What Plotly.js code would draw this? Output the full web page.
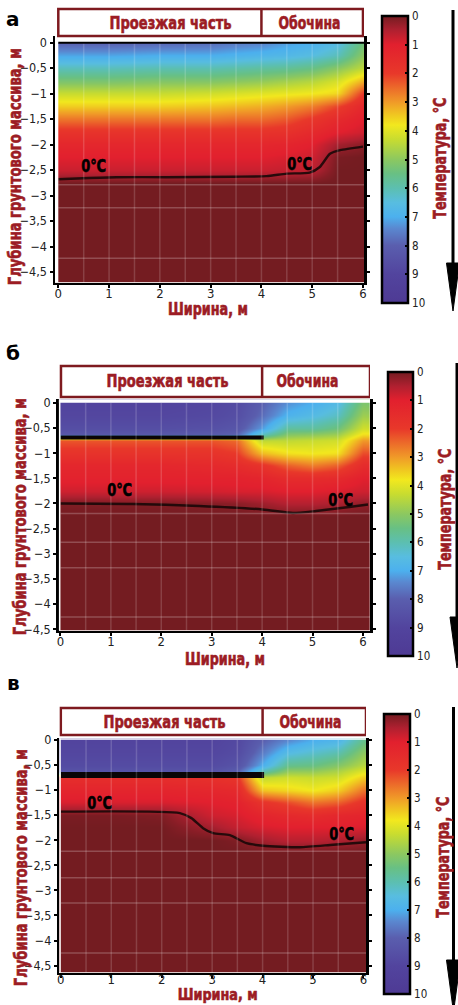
<!DOCTYPE html>
<html><head><meta charset="utf-8">
<script src="https://cdn.plot.ly/plotly-3.0.1.min.js"></script>
<style>html,body{margin:0;padding:0;background:#fff}#chart{width:458px;height:1005px}</style>
</head><body><div id="chart"></div>
<script>
// ---------- DATA ----------
const xGrid = [0, 1, 2, 3, 3.5, 4, 4.5, 5, 5.5, 6];

const yGridA = [0, -0.25, -0.5, -0.75, -1, -1.25, -1.5, -1.75, -2, -2.25, -2.5, -2.75, -3, -4.7];
const tempA = [
  [-8.0,-8.0,-7.9,-7.8,-7.6,-7.5,-7.2,-7.0,-6.6,-5.4],
  [-7.1,-7.1,-7.0,-7.0,-6.9,-6.8,-6.7,-6.5,-6.1,-5.0],
  [-6.1,-6.1,-6.0,-6.0,-5.9,-5.8,-5.7,-5.5,-5.0,-4.4],
  [-5.2,-5.2,-5.1,-5.1,-5.0,-4.9,-4.7,-4.5,-4.1,-3.2],
  [-4.3,-4.3,-4.3,-4.2,-4.1,-4.0,-3.9,-3.8,-3.6,-2.0],
  [-3.5,-3.5,-3.5,-3.4,-3.3,-3.2,-3.0,-2.7,-2.1,-1.3],
  [-2.6,-2.6,-2.6,-2.6,-2.5,-2.5,-2.3,-1.9,-1.4,-1.0],
  [-1.8,-1.8,-1.8,-1.8,-1.8,-1.8,-1.7,-1.4,-1.0,-0.8],
  [-1.3,-1.3,-1.3,-1.3,-1.3,-1.3,-1.2,-1.0,-0.4,-0.2],
  [-1.0,-1.0,-1.0,-1.0,-1.0,-1.0,-0.9,-0.8,-0.05,0],
  [-0.75,-0.75,-0.75,-0.75,-0.75,-0.75,-0.7,-0.6,0,0],
  [0,0,0,0,0,0,0,0,0,0],
  [0,0,0,0,0,0,0,0,0,0],
  [0,0,0,0,0,0,0,0,0,0]
];

const yGridB = [0, -0.25, -0.5, -0.62, -0.74, -1, -1.25, -1.5, -1.75, -2, -2.25, -2.5, -3, -4.6];
const tempB = [
  [-9.0,-9.0,-9.0,-8.9,-8.7,-8.0,-7.3,-7.0,-6.6,-5.2],
  [-8.9,-8.9,-8.9,-8.8,-8.6,-7.8,-6.9,-6.6,-6.2,-4.8],
  [-8.6,-8.6,-8.6,-8.5,-8.3,-7.2,-5.8,-5.8,-5.4,-4.2],
  [-8.2,-8.2,-8.2,-8.1,-7.9,-6.2,-5.1,-5.0,-4.8,-3.7],
  [-2.3,-2.3,-2.3,-2.3,-2.5,-4.4,-4.4,-4.3,-4.2,-3.0],
  [-1.8,-1.8,-1.8,-1.8,-2.0,-3.3,-3.7,-3.8,-3.7,-2.2],
  [-1.3,-1.3,-1.3,-1.4,-1.5,-1.8,-2.4,-2.7,-2.4,-1.5],
  [-1.1,-1.1,-1.1,-1.1,-1.1,-1.2,-1.5,-1.5,-1.4,-1.0],
  [-0.8,-0.8,-0.8,-0.85,-0.9,-0.9,-1.0,-1.0,-0.9,-0.8],
  [-0.1,-0.1,-0.1,-0.15,-0.2,-0.35,-0.55,-0.55,-0.45,-0.25],
  [0,0,0,0,0,0,0,0,0,0],
  [0,0,0,0,0,0,0,0,0,0],
  [0,0,0,0,0,0,0,0,0,0],
  [0,0,0,0,0,0,0,0,0,0]
];

const yGridV = [0, -0.25, -0.5, -0.62, -0.74, -1, -1.25, -1.5, -1.75, -2, -2.25, -2.5, -3, -4.65];
const tempV = [
  [-9.0,-9.0,-9.0,-9.0,-8.8,-8.0,-7.4,-7.0,-6.8,-5.6],
  [-8.9,-8.9,-8.9,-8.9,-8.7,-7.6,-6.6,-6.3,-6.0,-5.0],
  [-8.7,-8.7,-8.7,-8.7,-8.4,-7.0,-5.6,-5.5,-5.1,-4.5],
  [-8.4,-8.4,-8.4,-8.4,-8.0,-6.0,-4.9,-4.9,-4.6,-4.0],
  [-1.6,-1.6,-1.6,-1.7,-1.9,-4.4,-4.2,-4.3,-4.2,-3.5],
  [-1.2,-1.2,-1.2,-1.3,-1.4,-3.4,-3.6,-3.8,-3.5,-2.6],
  [-0.9,-0.9,-0.9,-1.0,-1.1,-1.8,-2.2,-2.6,-2.4,-1.8],
  [-0.05,-0.05,-0.1,-0.8,-0.9,-1.2,-1.4,-1.5,-1.3,-1.2],
  [0,0,0,-0.4,-0.7,-0.9,-1.0,-1.0,-1.0,-0.9],
  [0,0,0,0,-0.1,-0.4,-0.6,-0.6,-0.5,-0.3],
  [0,0,0,0,0,0,0,0,0,0],
  [0,0,0,0,0,0,0,0,0,0],
  [0,0,0,0,0,0,0,0,0,0],
  [0,0,0,0,0,0,0,0,0,0]
];

// 0 °C isotherms
const zeroLineA_x = [0, 0.49, 1.15, 2.13, 3.45, 4.1, 4.5, 4.95, 5.15, 5.35, 5.55, 6.0];
const zeroLineA_y = [-2.68, -2.66, -2.64, -2.64, -2.63, -2.62, -2.57, -2.55, -2.44, -2.18, -2.11, -2.04];
const zeroLineB_x = [0, 1.43, 2.75, 4.01, 4.61, 5.07, 5.73, 6.1];
const zeroLineB_y = [-2.0, -2.01, -2.05, -2.12, -2.19, -2.15, -2.07, -2.02];
const zeroLineV_x = [0, 2.36, 2.59, 2.82, 3.02, 3.35, 3.68, 4.01, 4.74, 5.4, 6.05];
const zeroLineV_y = [-1.43, -1.46, -1.56, -1.76, -1.86, -1.90, -2.06, -2.11, -2.14, -2.09, -2.04];

// insulation layer under the carriageway
const barB_x = [0, 4.03];
const barB_y = [-0.69, -0.69];
const barV_x = [0, 4.03];
const barV_y = [-0.70, -0.70];

// labels / ticks
const xTickVals = [0, 1, 2, 3, 4, 5, 6];
const xTickText = ['0', '1', '2', '3', '4', '5', '6'];
const yTickVals = [0, -0.5, -1, -1.5, -2, -2.5, -3, -3.5, -4, -4.5];
const yTickText = ['0', '\u22120,5', '\u22121', '\u22121,5', '\u22122', '\u22122,5', '\u22123', '\u22123,5', '\u22124', '\u22124,5'];
const cbTickVals = [0, -1, -2, -3, -4, -5, -6, -7, -8, -9, -10];
const cbTickText = ['0', '1', '2', '3', '4', '5', '6', '7', '8', '9', '10'];
const panelLetters = ['а', 'б', 'в'];
const headerLabels = ['Проезжая часть', 'Обочина'];
const zeroLabel = '0°C';
const xTitle = 'Ширина, м';
const yTitle = 'Глубина грунтового массива, м';
const cbTitle = 'Температура, °C';
const faintX = [0.5, 1, 1.5, 2, 2.5, 3, 3.5, 4, 4.5, 5, 5.5];

// ---------- STYLE / LAYOUT ----------
const W = 458, H = 1005;
const px = v => v / W;
const py = v => 1 - v / H;
const RED = '#9c1c24';
const BOLD = '"DejaVu Sans Condensed","Liberation Sans Narrow","DejaVu Sans",sans-serif';
const THIN = '"Liberation Sans Narrow","DejaVu Sans Condensed","Arial Narrow",sans-serif';

// target printed lengths (px) of the condensed bold labels, as measured on the reference
const textWidths = {};
textWidths[headerLabels[0]] = 122;
textWidths[headerLabels[1]] = 62;
textWidths[zeroLabel] = 25;
textWidths[xTitle] = 80;
textWidths[yTitle] = 237;
textWidths[cbTitle] = 121;

const colorscale = [
  [0.00, '#4e3a94'], [0.10, '#52449e'], [0.20, '#5a5eae'], [0.26, '#5a88d0'],
  [0.30, '#4cb0ee'], [0.35, '#58bde0'], [0.40, '#5cbfb0'], [0.45, '#68c084'],
  [0.50, '#8cc860'], [0.57, '#c8dc30'], [0.62, '#f2e81e'], [0.65, '#f0cc20'],
  [0.70, '#f09a28'], [0.75, '#ec6a2a'], [0.80, '#e8382a'], [0.90, '#e2202e'],
  [0.95, '#b02030'], [1.00, '#741c21']
];

const panels = [
  { y: yGridA, z: tempA, zx: zeroLineA_x, zy: zeroLineA_y, bx: null, by: null, barW: 0,
    xd: [55, 364], xr: [-0.065, 6.02], yd: [36, 282.7], yr: [-4.71, 0.13],
    head: [9, 36], headX: [0, 6], headTextY: 22.7, headTextX: [2.2, 4.95],
    cb: { l: 382, w: 26, t: 16, b: 303 }, cbt: { x: 440, y: 158 },
    arrow: { x: 453, t: 10, ht: 263, b: 311, hw: 6.5 }, letter: { x: 13, y: 19 },
    xt: { x: 208, y: 309, s: 17 }, xso: -6, yt: { x: 15, y: 167 },
    zl: [[0.7, -2.42], [4.74, -2.38]], faintY: [-2.79, -3.24, -4.23], topLine: true },
  { y: yGridB, z: tempB, zx: zeroLineB_x, zy: zeroLineB_y, bx: barB_x, by: barB_y, barW: 4,
    xd: [58.7, 370], xr: [-0.035, 6.14], yd: [399.3, 630.7], yr: [-4.53, 0.07],
    head: [366, 397], headX: [0.01, 6.14], headTextY: 380.7, headTextX: [2.13, 4.91],
    cb: { l: 388, w: 25, t: 372, b: 656 }, cbt: { x: 445, y: 509 },
    arrow: { x: 457, t: 363, ht: 617, b: 668, hw: 7 }, letter: { x: 13, y: 353 },
    xt: { x: 225, y: 659, s: 17 }, xso: -6, yt: { x: 20, y: 517 },
    zl: [[1.17, -1.73], [5.56, -1.92]], faintY: [-2.2, -2.77, -3.28, -4.26], topLine: false },
  { y: yGridV, z: tempV, zx: zeroLineV_x, zy: zeroLineV_y, bx: barV_x, by: barV_y, barW: 6,
    xd: [59.3, 366], xr: [-0.03, 6.05], yd: [738.3, 972.7], yr: [-4.64, 0.03],
    head: [708, 735], headX: [0, 6.05], headTextY: 721.7, headTextX: [2.06, 4.94],
    cb: { l: 384, w: 26, t: 714, b: 994 }, cbt: { x: 443, y: 857 },
    arrow: { x: 453.5, t: 707, ht: 960, b: 1012, hw: 7 }, letter: { x: 13, y: 683 },
    xt: { x: 217, y: 994.5, s: 15.5 }, xso: -10, yt: { x: 21, y: 868 },
    zl: [[0.77, -1.24], [5.57, -1.86]], faintY: [-2.22, -2.75, -3.25, -4.25], topLine: false }
];

const data = [];
const shapes = [];
const annotations = [];
const layout = {
  width: W, height: H, margin: { l: 0, r: 0, t: 0, b: 0 },
  paper_bgcolor: '#fff', plot_bgcolor: '#fff', showlegend: false,
  shapes, annotations
};

panels.forEach((p, i) => {
  const n = i === 0 ? '' : String(i + 1);
  const xa = 'x' + n, ya = 'y' + n;
  data.push({
    type: 'heatmap', x: xGrid, y: p.y, z: p.z, xaxis: xa, yaxis: ya,
    zmin: -10, zmax: 0, zsmooth: 'best', colorscale, hoverinfo: 'skip',
    showscale: true,
    colorbar: {
      x: px(p.cb.l), xanchor: 'left', xpad: 0, ypad: 0, thickness: p.cb.w,
      lenmode: 'pixels', len: p.cb.b - p.cb.t, y: py((p.cb.t + p.cb.b) / 2), yanchor: 'middle',
      outlinewidth: 2.5, outlinecolor: '#000',
      tickmode: 'array', tickvals: cbTickVals, ticktext: cbTickText,
      ticks: 'inside', ticklen: 4, tickwidth: 2, tickcolor: '#000',
      tickfont: { family: THIN, size: 11.5, color: '#222' }
    }
  });
  if (p.bx) {
    data.push({ type: 'scatter', mode: 'lines', x: p.bx, y: p.by, xaxis: xa, yaxis: ya,
      line: { color: '#0a0506', width: p.barW }, hoverinfo: 'skip' });
  }
  data.push({ type: 'scatter', mode: 'lines', x: p.zx, y: p.zy, xaxis: xa, yaxis: ya,
    line: { color: '#1a0808', width: 2.4, shape: 'spline', smoothing: 0.6 }, opacity: 0.9, hoverinfo: 'skip' });

  const axBase = {
    showline: true, linewidth: 2.5, linecolor: '#000', showgrid: false, zeroline: false,
    ticks: 'outside', ticklen: 3, tickwidth: 2, tickcolor: '#000', fixedrange: true,
    tickfont: { family: THIN, size: 13, color: '#222' }
  };
  layout['xaxis' + n] = Object.assign({}, axBase, {
    domain: [px(p.xd[0]), px(p.xd[1])], range: p.xr, anchor: ya,
    tickmode: 'array', tickvals: xTickVals, ticktext: xTickText, ticklabelstandoff: p.xso
  });
  layout['yaxis' + n] = Object.assign({}, axBase, {
    domain: [py(p.yd[1]), py(p.yd[0])], range: p.yr, anchor: xa, mirror: 'allticks',
    tickmode: 'array', tickvals: yTickVals, ticktext: yTickText, ticklabelstandoff: 0,
    tickfont: { family: THIN, size: 12.5, color: '#222' }
  });

  // white margins outside the field and faint scan grid
  shapes.push({ type: 'rect', xref: xa, yref: ya, x0: p.xr[0], x1: 0, y0: p.yr[0], y1: p.yr[1],
    fillcolor: '#fff', line: { width: 0 }, layer: 'above' });
  shapes.push({ type: 'rect', xref: xa, yref: ya, x0: p.xr[0], x1: p.xr[1], y0: 0, y1: p.yr[1],
    fillcolor: '#fff', line: { width: 0 }, layer: 'above' });
  faintX.forEach(fx => shapes.push({ type: 'line', xref: xa, yref: ya, x0: fx, x1: fx, y0: p.yr[0], y1: 0,
    line: { color: 'rgba(255,255,255,0.16)', width: 1.5 }, layer: 'above' }));
  p.faintY.forEach(fy => shapes.push({ type: 'line', xref: xa, yref: ya, x0: 0, x1: p.xr[1], y0: fy, y1: fy,
    line: { color: 'rgba(255,255,255,0.22)', width: 1.5 }, layer: 'above' }));
  if (p.topLine) {
    shapes.push({ type: 'line', xref: xa, yref: ya, x0: 0, x1: p.xr[1], y0: 0, y1: 0,
      line: { color: '#000', width: 2 }, layer: 'above' });
  }

  // header boxes
  shapes.push({ type: 'rect', xref: xa, yref: 'paper', x0: p.headX[0], x1: p.headX[1],
    y0: py(p.head[1]), y1: py(p.head[0]), fillcolor: '#fff', line: { color: '#7e1a1f', width: 2.5 }, layer: 'above' });
  shapes.push({ type: 'line', xref: xa, yref: 'paper', x0: 4, x1: 4,
    y0: py(p.head[1]), y1: py(p.head[0]), line: { color: '#7e1a1f', width: 2.5 }, layer: 'above' });
  headerLabels.forEach((t, k) => annotations.push({
    text: t, xref: xa, yref: 'paper', x: p.headTextX[k], y: py(p.headTextY),
    xanchor: 'center', yanchor: 'middle', showarrow: false,
    font: { family: BOLD, size: 18, color: RED, weight: 'bold' }
  }));

  // 0 °C labels
  p.zl.forEach(c => annotations.push({
    text: zeroLabel, xref: xa, yref: ya, x: c[0], y: c[1], xanchor: 'center', yanchor: 'middle',
    showarrow: false, font: { family: BOLD, size: 18, color: '#000', weight: 'bold' }
  }));

  // axis titles
  annotations.push({ text: xTitle, xref: 'paper', yref: 'paper', x: px(p.xt.x), y: py(p.xt.y),
    xanchor: 'center', yanchor: 'middle', showarrow: false,
    font: { family: BOLD, size: p.xt.s, color: RED, weight: 'bold' } });
  annotations.push({ text: yTitle, xref: 'paper', yref: 'paper', x: px(p.yt.x), y: py(p.yt.y),
    xanchor: 'center', yanchor: 'middle', showarrow: false, textangle: -90,
    font: { family: BOLD, size: 17, color: RED, weight: 'bold' } });
  annotations.push({ text: cbTitle, xref: 'paper', yref: 'paper', x: px(p.cbt.x), y: py(p.cbt.y),
    xanchor: 'center', yanchor: 'middle', showarrow: false, textangle: -90,
    font: { family: BOLD, size: 17, color: RED, weight: 'bold' } });
  annotations.push({ text: panelLetters[i], xref: 'paper', yref: 'paper', x: px(p.letter.x), y: py(p.letter.y),
    xanchor: 'center', yanchor: 'middle', showarrow: false,
    font: { family: '"DejaVu Sans","Liberation Sans",sans-serif', size: 20, color: '#000', weight: 'bold' } });

  // downward arrow beside the colour bar
  const a = p.arrow;
  shapes.push({ type: 'line', xref: 'paper', yref: 'paper', x0: px(a.x), x1: px(a.x), y0: py(a.t), y1: py(a.ht + 2),
    line: { color: '#000', width: 3 }, layer: 'above' });
  shapes.push({ type: 'path', xref: 'paper', yref: 'paper',
    path: 'M ' + px(a.x - a.hw) + ' ' + py(a.ht) + ' L ' + px(a.x + a.hw) + ' ' + py(a.ht) +
          ' L ' + px(a.x) + ' ' + py(a.b) + ' Z',
    fillcolor: '#000', line: { color: '#000', width: 1 }, layer: 'above' });
});

Plotly.newPlot('chart', data, layout, { staticPlot: true, displayModeBar: false }).then(gd => {
  // squeeze the bold labels to the condensed, heavy look of the original typeface
  gd.querySelectorAll('text.annotation-text').forEach(el => {
    const w = textWidths[el.textContent];
    if (w) {
      el.setAttribute('textLength', w);
      el.setAttribute('lengthAdjust', 'spacingAndGlyphs');
      el.style.stroke = el.style.fill;
      el.style.strokeWidth = '0.6px';
    }
  });
});
</script>
</body></html>
